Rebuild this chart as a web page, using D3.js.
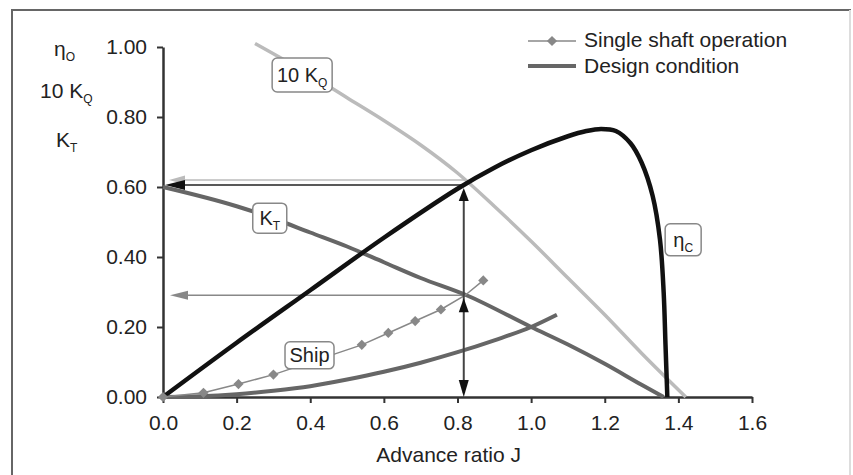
<!DOCTYPE html>
<html><head><meta charset="utf-8">
<script src="https://cdn.jsdelivr.net/npm/d3@7"></script>
<style>
body{margin:0;background:#fff;}
text{font-family:"Liberation Sans",Arial,sans-serif;fill:#222;}
</style></head>
<body><svg id="c" width="853" height="475"></svg>
<script>
// ---- data ----
const xTicks = [0.0,0.2,0.4,0.6,0.8,1.0,1.2,1.4,1.6];
const yTicks = [0.00,0.20,0.40,0.60,0.80,1.00];
const etaJ  = [0,0.2,0.4,0.6,0.8,0.9,1.0,1.1,1.15,1.19,1.23,1.27,1.30,1.33,1.35,1.36,1.365,1.37];
const etaV  = [0,0.155,0.305,0.455,0.595,0.655,0.705,0.745,0.760,0.766,0.760,0.725,0.670,0.575,0.450,0.300,0.150,0];
const kqJ   = [0.25,0.4,0.5,0.6,0.7,0.8,0.9,1.0,1.1,1.2,1.3,1.42];
const kqV   = [1.01,0.92,0.855,0.79,0.72,0.64,0.545,0.445,0.34,0.235,0.125,0];
const ktJ   = [0,0.2,0.3,0.4,0.5,0.6,0.7,0.826,1.0,1.1,1.2,1.3,1.36];
const ktV   = [0.60,0.545,0.51,0.47,0.43,0.385,0.34,0.29,0.20,0.15,0.095,0.035,0];
const shipJ = [0,0.11,0.205,0.30,0.54,0.612,0.685,0.755,0.82,0.87];
const shipV = [0,0.012,0.037,0.064,0.149,0.183,0.217,0.25,0.29,0.333];
const desJ  = [0,0.1,0.2,0.3,0.4,0.5,0.6,0.7,0.8,0.9,1.0,1.07];
const desV  = [0,0.002,0.008,0.018,0.031,0.05,0.072,0.098,0.128,0.162,0.2,0.235];
const markerJ = [0,0.11,0.205,0.30,0.54,0.612,0.685,0.755,0.87];
const designJ = 0.817, designEta = 0.606, designKQ = 0.62, designKT = 0.291;
const legendNames = ["Single shaft operation","Design condition"];

const svg = d3.select("#c");
const x = d3.scaleLinear().domain([0,1.6]).range([163,752]);
const y = d3.scaleLinear().domain([0,1]).range([397,47]);

// frame
svg.append("rect").attr("x",12).attr("y",10).attr("width",838).attr("height",470)
  .attr("fill","none").attr("stroke","#666").attr("stroke-width",2);
svg.append("line").attr("x1",850).attr("x2",850).attr("y1",10).attr("y2",475).attr("stroke","#ddd").attr("stroke-width",2);

// axes
const xa = svg.append("g").attr("transform","translate(0,397)")
  .call(d3.axisBottom(x).tickValues(xTicks).tickFormat(d3.format(".1f")).tickSizeInner(6).tickSizeOuter(0).tickPadding(12));
const ya = svg.append("g").attr("transform","translate(163,0)")
  .call(d3.axisLeft(y).tickValues(yTicks).tickFormat(d3.format(".2f")).tickSizeInner(6).tickSizeOuter(0).tickPadding(10));
[xa,ya].forEach(a=>{
  a.select(".domain").attr("stroke","#333").attr("stroke-width",2.5);
  a.selectAll(".tick line").attr("stroke","#333").attr("stroke-width",2);
  a.selectAll(".tick text").style("font-size","21px").attr("fill","#222")
   .style("font-family","'Liberation Sans',Arial,sans-serif");
});

const line = d3.line().x(d=>x(d[0])).y(d=>y(d[1])).curve(d3.curveMonotoneX);
const zip = (a,b)=>a.map((v,i)=>[v,b[i]]);

// arrows helper
function arrowHead(tipX,tipY,dir,color,len,w){
  let pts;
  if(dir==="left") pts=[[tipX,tipY],[tipX+len,tipY-w/2],[tipX+len,tipY+w/2]];
  if(dir==="up") pts=[[tipX,tipY],[tipX-w/2,tipY+len],[tipX+w/2,tipY+len]];
  if(dir==="down") pts=[[tipX,tipY],[tipX-w/2,tipY-len],[tipX+w/2,tipY-len]];
  svg.append("polygon").attr("points",pts.map(p=>p.join(",")).join(" ")).attr("fill",color);
}

// light gray arrow (10KQ)
svg.append("line").attr("x1",x(designJ+0.008)).attr("x2",x(0)+14).attr("y1",y(designKQ)).attr("y2",y(designKQ))
  .attr("stroke","#bbb").attr("stroke-width",1.5);
arrowHead(x(0)+6,y(designKQ),"left","#bbb",16,9);
// black arrow (eta)
svg.append("line").attr("x1",x(designJ)).attr("x2",x(0)+10).attr("y1",y(designEta)).attr("y2",y(designEta))
  .attr("stroke","#222").attr("stroke-width",1.5);
arrowHead(x(0)+2,y(designEta),"left","#111",20,10);
// gray arrow KT
svg.append("line").attr("x1",x(designJ+0.01)).attr("x2",x(0)+14).attr("y1",y(designKT)).attr("y2",y(designKT))
  .attr("stroke","#888").attr("stroke-width",1.5);
arrowHead(x(0)+7,y(designKT),"left","#888",18,9);

// curves
svg.append("path").attr("d",line(zip(desJ,desV))).attr("fill","none").attr("stroke","#666").attr("stroke-width",4);
svg.append("path").attr("d",line(zip(kqJ,kqV))).attr("fill","none").attr("stroke","#bbb").attr("stroke-width",3.5);
svg.append("path").attr("d",line(zip(ktJ,ktV))).attr("fill","none").attr("stroke","#666").attr("stroke-width",4);
svg.append("path").attr("d",d3.line().x(d=>x(d[0])).y(d=>y(d[1])).curve(d3.curveCatmullRom)(zip(etaJ,etaV)))
  .attr("fill","none").attr("stroke","#111").attr("stroke-width",4.5);
svg.append("path").attr("d",d3.line().x(d=>x(d[0])).y(d=>y(d[1]))(zip(shipJ,shipV)))
  .attr("fill","none").attr("stroke","#888").attr("stroke-width",1.5);
const diamond = d3.symbol().type(d3.symbolSquare).size(52);
svg.selectAll(".mk").data(markerJ).enter().append("path")
  .attr("d",diamond).attr("transform",d=>`translate(${x(d)},${y(shipV[shipJ.indexOf(d)])}) rotate(45)`)
  .attr("fill","#888");

// vertical double arrow
svg.append("line").attr("x1",x(designJ)).attr("x2",x(designJ)).attr("y1",y(0)-4).attr("y2",y(designEta)+6)
  .attr("stroke","#444").attr("stroke-width",2);
arrowHead(x(designJ),y(designEta)+3,"up","#111",13,10);
arrowHead(x(designJ),y(designKT)+3,"up","#111",14,10);
arrowHead(x(designJ),y(0),"down","#111",17,10);

// label boxes
function boxLabel(cx,cy,w,h,main,sub){
  const g=svg.append("g");
  g.append("rect").attr("x",cx-w/2).attr("y",cy-h/2).attr("width",w).attr("height",h).attr("rx",5)
   .attr("fill","#fff").attr("stroke","#888").attr("stroke-width",1.5);
  const t=g.append("text").attr("x",cx).attr("y",cy+7).attr("text-anchor","middle").style("font-size","20px");
  t.append("tspan").text(main);
  if(sub) t.append("tspan").attr("dy",5).style("font-size","12px").text(sub);
}
boxLabel(x(0.378),y(0.92),60,34,"10 K","Q");
boxLabel(x(0.29),y(0.511),34,30,"K","T");
boxLabel(x(0.398),y(0.119),49,27,"Ship",null);
boxLabel(x(1.413),y(0.449),36,32,"η","C");

// left axis labels
function subLabel(lx,ly,main,sub){
  const t=svg.append("text").attr("x",lx).attr("y",ly).style("font-size","21px");
  t.append("tspan").text(main);
  t.append("tspan").attr("dy",5).style("font-size","12px").text(sub);
}
subLabel(54,56,"η","O");
subLabel(40,98,"10 K","Q");
subLabel(56,147,"K","T");

// axis title
svg.append("text").attr("x",x(0.776)).attr("y",462).attr("text-anchor","middle").style("font-size","21px").text("Advance ratio J");

// legend
const lg=svg.append("g");
lg.append("line").attr("x1",528).attr("x2",576).attr("y1",41).attr("y2",41).attr("stroke","#888").attr("stroke-width",1.5);
lg.append("path").attr("d",diamond).attr("transform","translate(552,41) rotate(45)").attr("fill","#888");
lg.append("line").attr("x1",528).attr("x2",576).attr("y1",66).attr("y2",66).attr("stroke","#666").attr("stroke-width",4);
lg.selectAll("text").data(legendNames).enter().append("text").attr("x",584).attr("y",(d,i)=>47+i*26)
  .style("font-size","21px").text(d=>d);
</script></body></html>
